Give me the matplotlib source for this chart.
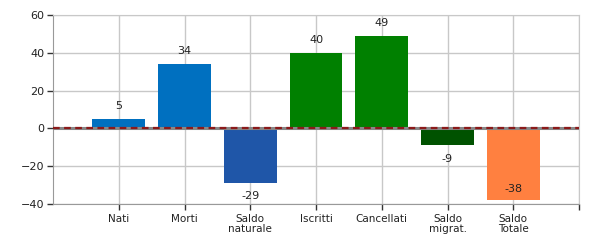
import matplotlib.pyplot as plt

# bilancio demografico
categories = ["Nati", "Morti", "Saldo\nnaturale", "Iscritti", "Cancellati", "Saldo\nmigrat.", "Saldo\nTotale"]
values = [5, 34, -29, 40, 49, -9, -38]
colors = ["#0070C0", "#0070C0", "#1F56A8", "#008000", "#008000", "#005200", "#FF8040"]

plt.rcParams["font.family"] = "DejaVu Sans"

fig = plt.figure(figsize=(6, 2.5), dpi=100)
ax = fig.add_axes([53 / 600, 1 - 204 / 250, 526 / 600, 189 / 250])

x = list(range(1, len(values) + 1))
ax.bar(x, values, width=0.8, color=colors, zorder=2)

# valori sopra/sotto le barre
for xi, v in zip(x, values):
    if v >= 0:
        ax.text(xi, v + 7, str(v), ha="center", va="center", fontsize=8, color="#222222", zorder=4)
    elif v - 8 < -40:
        ax.text(xi, v + 6, str(v), ha="center", va="center", fontsize=8, color="#222222", zorder=4)
    else:
        ax.text(xi, v - 7, str(v), ha="center", va="center", fontsize=8, color="#222222", zorder=4)

ax.axhline(0, color="#888888", lw=2.2, zorder=3)
ax.axhline(0, color="#8B1A1A", lw=1.6, ls=(0, (3, 2)), zorder=3)

ax.set_xlim(0, 8)
ax.set_ylim(-40, 60)
ax.set_yticks(range(-40, 61, 20))
ax.set_xticks(x + [8])
ax.set_xticklabels(categories + [""], fontsize=7.5, color="#222222", linespacing=1.0)
ax.tick_params(axis="y", labelsize=8, labelcolor="#222222", length=4, width=1, color="#333333", pad=2)
ax.tick_params(axis="x", length=4, width=1, color="#333333", pad=3)

ax.grid(True, color="#C8C8C8", lw=1, zorder=0)
for side in ["top", "right"]:
    ax.spines[side].set_color("#C8C8C8")
for side in ["left", "bottom"]:
    ax.spines[side].set_color("#999999")

fig.savefig("out.png", dpi=100)
